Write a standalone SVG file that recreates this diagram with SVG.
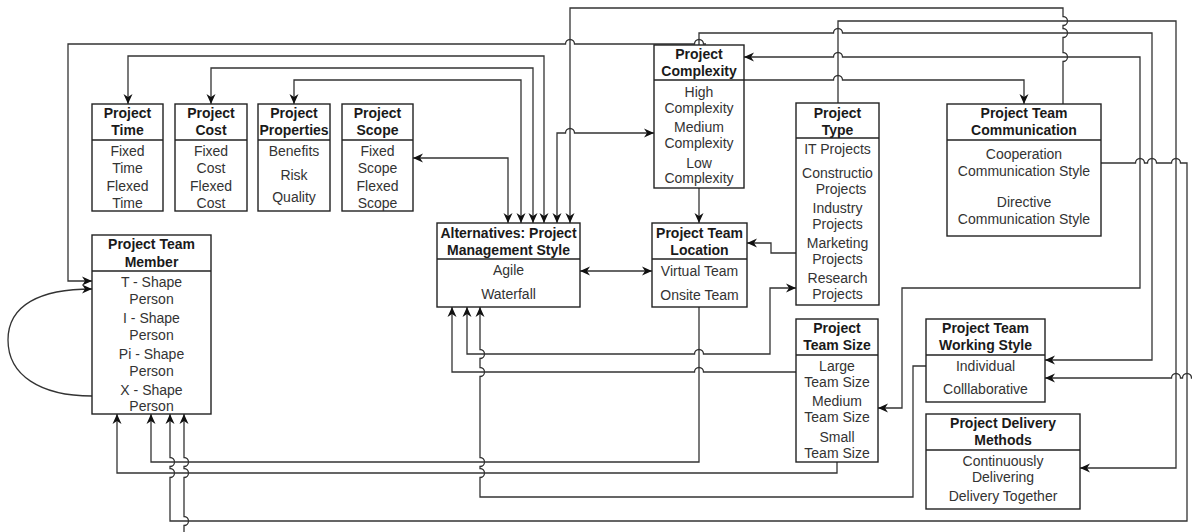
<svg xmlns="http://www.w3.org/2000/svg" width="1192" height="532" viewBox="0 0 1192 532">
<style>
.box{fill:#fff;stroke:#222;stroke-width:1.4}
.sep{stroke:#222;stroke-width:1.4}
.h{font-family:"Liberation Sans",Arial,sans-serif;font-size:14px;font-weight:bold;fill:#1a1a1a;text-anchor:middle}
.t{font-family:"Liberation Sans",Arial,sans-serif;font-size:14px;fill:#333;text-anchor:middle}
.e{fill:none;stroke:#333;stroke-width:1.3}
.ea{fill:none;stroke:#333;stroke-width:1.3;marker-end:url(#arr)}
.eb{fill:none;stroke:#333;stroke-width:1.3;marker-end:url(#arr);marker-start:url(#arr)}
</style>
<defs>
<marker id="arr" viewBox="0 0 10 10" refX="10" refY="5" markerWidth="10" markerHeight="10" markerUnits="userSpaceOnUse" orient="auto-start-reverse">
<path d="M0,0.5 L10,5 L0,9.5 L3,5 z" fill="#111"/>
</marker>
</defs>
<rect width="1192" height="532" fill="#fff"/>

<g id="connectors">
<path class="ea" d="M706 44 H703.5 A4.5 4.5 0 0 0 694.5 44 H574.5 A4.5 4.5 0 0 0 565.5 44 H68 V281 H92"/>
<path class="ea" d="M699 45 V33 H833.5 A4.5 4.5 0 0 1 842.5 33 H1152 V360 H1045"/>
<path class="ea" d="M1063 104 V61.5 A4.5 4.5 0 0 0 1063 52.5 V37.5 A4.5 4.5 0 0 0 1063 28.5 V25.5 A4.5 4.5 0 0 0 1063 16.5 V8 H570 V223"/>
<path class="eb" d="M557 223 V133 H565.5 A4.5 4.5 0 0 1 574.5 133 H654"/>
<path class="eb" d="M508 223 V158 H413"/>
<path class="eb" d="M521 223 V80 H294 V104"/>
<path class="eb" d="M533 223 V68 H211 V104"/>
<path class="eb" d="M544 223 V56 H128 V104"/>
<path class="eb" d="M878 408 H902 V288 H1140 V57 H842.5 A4.5 4.5 0 0 0 833.5 57 H744"/>
<path class="ea" d="M744 80 H833.5 A4.5 4.5 0 0 1 842.5 80 H1024 V104"/>
<path class="ea" d="M838 103 V21 H1176 V468 H1080"/>
<path class="ea" d="M1101 163 H1135.5 A4.5 4.5 0 0 1 1144.5 163 H1147.5 A4.5 4.5 0 0 1 1156.5 163 H1171.5 A4.5 4.5 0 0 1 1180.5 163 H1187 V521 H170 V477.5 A4.5 4.5 0 0 0 170 468.5 V466.5 A4.5 4.5 0 0 0 170 457.5 V414"/>
<path class="eb" d="M184 414 V457.5 A4.5 4.5 0 0 1 184 466.5 V468.5 A4.5 4.5 0 0 1 184 477.5 V516.5 A4.5 4.5 0 0 1 184 525.5 V545 H1200 V378 H1191.5 A4.5 4.5 0 0 0 1182.5 378 H1180.5 A4.5 4.5 0 0 0 1171.5 378 H1045"/>
<path class="eb" d="M580 271 H652"/>
<path class="ea" d="M699 188 V223"/>
<path class="ea" d="M796 253 H771 V243 H747"/>
<path class="eb" d="M796 288 H770 V354 H703.5 A4.5 4.5 0 0 0 694.5 354 H467 V307"/>
<path class="ea" d="M796 372 H703.5 A4.5 4.5 0 0 0 694.5 372 H452 V307"/>
<path class="ea" d="M926 366 H913 V497 H480 V477.5 A4.5 4.5 0 0 0 480 468.5 V466.5 A4.5 4.5 0 0 0 480 457.5 V376.5 A4.5 4.5 0 0 0 480 367.5 V358.5 A4.5 4.5 0 0 0 480 349.5 V307"/>
<path class="ea" d="M699 307 V462 H151 V414"/>
<path class="ea" d="M837 462 V473 H117 V414"/>
<path class="ea" d="M92 396 C40 396, 8 375, 8 340 C8 305, 40 289, 92 289"/>
</g>

<g id="project-time">
<rect class="box" x="92" y="104" width="71" height="107"/>
<line class="sep" x1="92" y1="140" x2="163" y2="140"/>
<text class="h" x="127.5" y="118">Project</text>
<text class="h" x="127.5" y="135">Time</text>
<text class="t" x="127.5" y="156">Fixed</text>
<text class="t" x="127.5" y="173">Time</text>
<text class="t" x="127.5" y="191">Flexed</text>
<text class="t" x="127.5" y="208">Time</text>
</g>

<g id="project-cost">
<rect class="box" x="175" y="104" width="72" height="107"/>
<line class="sep" x1="175" y1="140" x2="247" y2="140"/>
<text class="h" x="211" y="118">Project</text>
<text class="h" x="211" y="135">Cost</text>
<text class="t" x="211" y="156">Fixed</text>
<text class="t" x="211" y="173">Cost</text>
<text class="t" x="211" y="191">Flexed</text>
<text class="t" x="211" y="208">Cost</text>
</g>

<g id="project-properties">
<rect class="box" x="258" y="104" width="72" height="107"/>
<line class="sep" x1="258" y1="140" x2="330" y2="140"/>
<text class="h" x="294" y="118">Project</text>
<text class="h" x="294" y="135">Properties</text>
<text class="t" x="294" y="156">Benefits</text>
<text class="t" x="294" y="180">Risk</text>
<text class="t" x="294" y="202">Quality</text>
</g>

<g id="project-scope">
<rect class="box" x="342" y="104" width="71" height="107"/>
<line class="sep" x1="342" y1="140" x2="413" y2="140"/>
<text class="h" x="377.5" y="118">Project</text>
<text class="h" x="377.5" y="135">Scope</text>
<text class="t" x="377.5" y="156">Fixed</text>
<text class="t" x="377.5" y="173">Scope</text>
<text class="t" x="377.5" y="191">Flexed</text>
<text class="t" x="377.5" y="208">Scope</text>
</g>

<g id="project-complexity">
<rect class="box" x="654" y="45" width="90" height="143"/>
<line class="sep" x1="654" y1="80" x2="744" y2="80"/>
<text class="h" x="699" y="59">Project</text>
<text class="h" x="699" y="76">Complexity</text>
<text class="t" x="699" y="97">High</text>
<text class="t" x="699" y="112.5">Complexity</text>
<text class="t" x="699" y="132">Medium</text>
<text class="t" x="699" y="147.5">Complexity</text>
<text class="t" x="699" y="167.5">Low</text>
<text class="t" x="699" y="183">Complexity</text>
</g>

<g id="alternatives">
<rect class="box" x="437" y="223" width="143" height="84"/>
<line class="sep" x1="437" y1="259" x2="580" y2="259"/>
<text class="h" x="508.5" y="237.5">Alternatives: Project</text>
<text class="h" x="508.5" y="255">Management Style</text>
<text class="t" x="508.5" y="275">Agile</text>
<text class="t" x="508.5" y="299">Waterfall</text>
</g>

<g id="project-team-location">
<rect class="box" x="652" y="223" width="95" height="84"/>
<line class="sep" x1="652" y1="259" x2="747" y2="259"/>
<text class="h" x="699.5" y="237.5">Project Team</text>
<text class="h" x="699.5" y="255">Location</text>
<text class="t" x="699.5" y="276">Virtual Team</text>
<text class="t" x="699.5" y="300">Onsite Team</text>
</g>

<g id="project-type">
<rect class="box" x="796" y="103" width="83" height="202"/>
<line class="sep" x1="796" y1="138" x2="879" y2="138"/>
<text class="h" x="837.5" y="117.5">Project</text>
<text class="h" x="837.5" y="134.5">Type</text>
<text class="t" x="837.5" y="154">IT Projects</text>
<text class="t" x="837.5" y="178">Constructio</text>
<text class="t" x="841" y="194">Projects</text>
<text class="t" x="837.5" y="213">Industry</text>
<text class="t" x="837.5" y="229">Projects</text>
<text class="t" x="837.5" y="248">Marketing</text>
<text class="t" x="837.5" y="264">Projects</text>
<text class="t" x="837.5" y="283">Research</text>
<text class="t" x="837.5" y="299">Projects</text>
</g>

<g id="project-team-communication">
<rect class="box" x="947" y="104" width="154" height="132"/>
<line class="sep" x1="947" y1="140" x2="1101" y2="140"/>
<text class="h" x="1024" y="118">Project Team</text>
<text class="h" x="1024" y="135">Communication</text>
<text class="t" x="1024" y="158.5">Cooperation</text>
<text class="t" x="1024" y="176">Communication Style</text>
<text class="t" x="1024" y="207">Directive</text>
<text class="t" x="1024" y="223.5">Communication Style</text>
</g>

<g id="project-team-size">
<rect class="box" x="796" y="319" width="82" height="143"/>
<line class="sep" x1="796" y1="355" x2="878" y2="355"/>
<text class="h" x="837" y="332.5">Project</text>
<text class="h" x="837" y="349.5">Team Size</text>
<text class="t" x="837" y="371">Large</text>
<text class="t" x="837" y="387">Team Size</text>
<text class="t" x="837" y="406">Medium</text>
<text class="t" x="837" y="422">Team Size</text>
<text class="t" x="837" y="442">Small</text>
<text class="t" x="837" y="458">Team Size</text>
</g>

<g id="project-team-working-style">
<rect class="box" x="926" y="319" width="119" height="83"/>
<line class="sep" x1="926" y1="355" x2="1045" y2="355"/>
<text class="h" x="985.5" y="332.5">Project Team</text>
<text class="h" x="985.5" y="349.5">Working Style</text>
<text class="t" x="985.5" y="371">Individual</text>
<text class="t" x="985.5" y="394">Colllaborative</text>
</g>

<g id="project-delivery-methods">
<rect class="box" x="926" y="414" width="154" height="95"/>
<line class="sep" x1="926" y1="450" x2="1080" y2="450"/>
<text class="h" x="1003" y="428">Project Delivery</text>
<text class="h" x="1003" y="445">Methods</text>
<text class="t" x="1003" y="465.5">Continuously</text>
<text class="t" x="1003" y="481.5">Delivering</text>
<text class="t" x="1003" y="501">Delivery Together</text>
</g>

<g id="project-team-member">
<rect class="box" x="92" y="235" width="119" height="179"/>
<line class="sep" x1="92" y1="271" x2="211" y2="271"/>
<text class="h" x="151.5" y="249">Project Team</text>
<text class="h" x="151.5" y="266.5">Member</text>
<text class="t" x="151.5" y="287">T - Shape</text>
<text class="t" x="151.5" y="303.5">Person</text>
<text class="t" x="151.5" y="323">I - Shape</text>
<text class="t" x="151.5" y="339.5">Person</text>
<text class="t" x="151.5" y="359">Pi - Shape</text>
<text class="t" x="151.5" y="375.5">Person</text>
<text class="t" x="151.5" y="395">X - Shape</text>
<text class="t" x="151.5" y="411">Person</text>
</g>
</svg>
